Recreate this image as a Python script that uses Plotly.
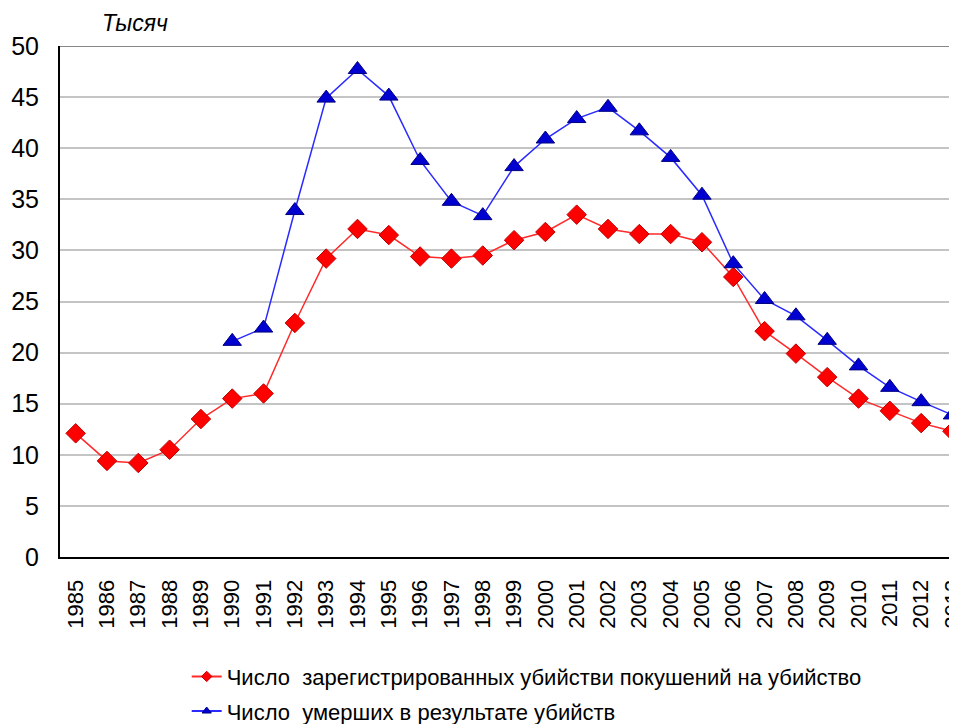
import plotly.graph_objects as go

years = [str(y) for y in range(1985, 2014)]
registered = [12.1, 9.4, 9.2, 10.5, 13.5, 15.5, 16.0, 22.9, 29.2, 32.1, 31.5, 29.4, 29.2, 29.5,
              31.0, 31.8, 33.5, 32.1, 31.6, 31.6, 30.8, 27.4, 22.1, 19.9, 17.6, 15.5, 14.3, 13.1, 12.3]
deaths_years = [str(y) for y in range(1990, 2014)]
deaths = [21.1, 22.4, 33.9, 44.9, 47.7, 45.1, 38.8, 34.8, 33.4, 38.2, 40.9, 42.9, 44.0, 41.7,
          39.1, 35.4, 28.7, 25.2, 23.6, 21.2, 18.7, 16.6, 15.2, 13.9]
y_ticks = [0, 5, 10, 15, 20, 25, 30, 35, 40, 45, 50]

name_reg = "Число  зарегистрированных убийстви покушений на убийство"
name_dead = "Число  умерших в результате убийств"

RED_LINE, RED_FILL, RED_EDGE = "#ff2a2a", "#ff0000", "#c00000"
BLUE_LINE, BLUE_FILL, BLUE_EDGE = "#2a2aff", "#0000d0", "#000080"

fig = go.Figure()
fig.add_trace(go.Scatter(
    x=years, y=registered, mode="lines+markers", name=name_reg, showlegend=False,
    line=dict(color=RED_LINE, width=1.5),
    marker=dict(symbol="diamond", size=15, color=RED_FILL, line=dict(color=RED_EDGE, width=1)),
))
fig.add_trace(go.Scatter(
    x=deaths_years, y=deaths, mode="lines+markers", name=name_dead, showlegend=False,
    line=dict(color=BLUE_LINE, width=1.5),
    marker=dict(symbol="triangle-up", size=16, color=BLUE_FILL, line=dict(color=BLUE_EDGE, width=1)),
))
# legend-only entries with small markers, like the reference legend
fig.add_trace(go.Scatter(
    x=[None], y=[None], mode="lines+markers", name=name_reg, legendgroup="a",
    line=dict(color=RED_LINE, width=2),
    marker=dict(symbol="diamond", size=8, color=RED_FILL, line=dict(color=RED_EDGE, width=1)),
))
fig.add_trace(go.Scatter(
    x=[None], y=[None], mode="lines+markers", name=name_dead, legendgroup="b",
    line=dict(color=BLUE_LINE, width=2),
    marker=dict(symbol="triangle-up", size=8, color=BLUE_FILL, line=dict(color=BLUE_EDGE, width=1)),
))

fig.add_shape(type="line", xref="paper", yref="y", x0=0, x1=1, y0=50, y1=50,
              line=dict(color="#888888", width=2))

fig.update_layout(
    width=957, height=724,
    margin=dict(l=52, r=0, t=38, b=175, autoexpand=False),
    paper_bgcolor="white", plot_bgcolor="white",
    font=dict(family="Liberation Sans, Arial, sans-serif", color="black"),
    showlegend=True,
    legend=dict(
        x=0.14, y=-0.193, xanchor="left", yanchor="top",
        font=dict(size=22, family="Liberation Sans, Arial"),
        traceorder="grouped", tracegroupgap=3,
        bgcolor="rgba(0,0,0,0)",
    ),
    xaxis=dict(
        type="category", categoryorder="array", categoryarray=years,
        range=[-0.5, 28.4], automargin=False,
        tickangle=-90, tickfont=dict(size=22),
        showgrid=False, showline=True, linecolor="black", linewidth=2,
        ticks="", ticklabelstandoff=12,
    ),
    yaxis=dict(
        range=[0, 50], tickvals=y_ticks, tickfont=dict(size=25), automargin=False,
        showgrid=True, gridcolor="#c4c4c4", gridwidth=2,
        showline=True, linecolor="black", linewidth=2,
        ticks="", ticklabelstandoff=14, zeroline=False,
    ),
    annotations=[dict(
        text="<i>Тысяч</i>", xref="paper", yref="paper", x=0.044, y=1.016,
        xanchor="left", yanchor="bottom", showarrow=False,
        font=dict(size=23, family="Liberation Sans, Arial"),
    )],
)

fig.write_html("out.html")
